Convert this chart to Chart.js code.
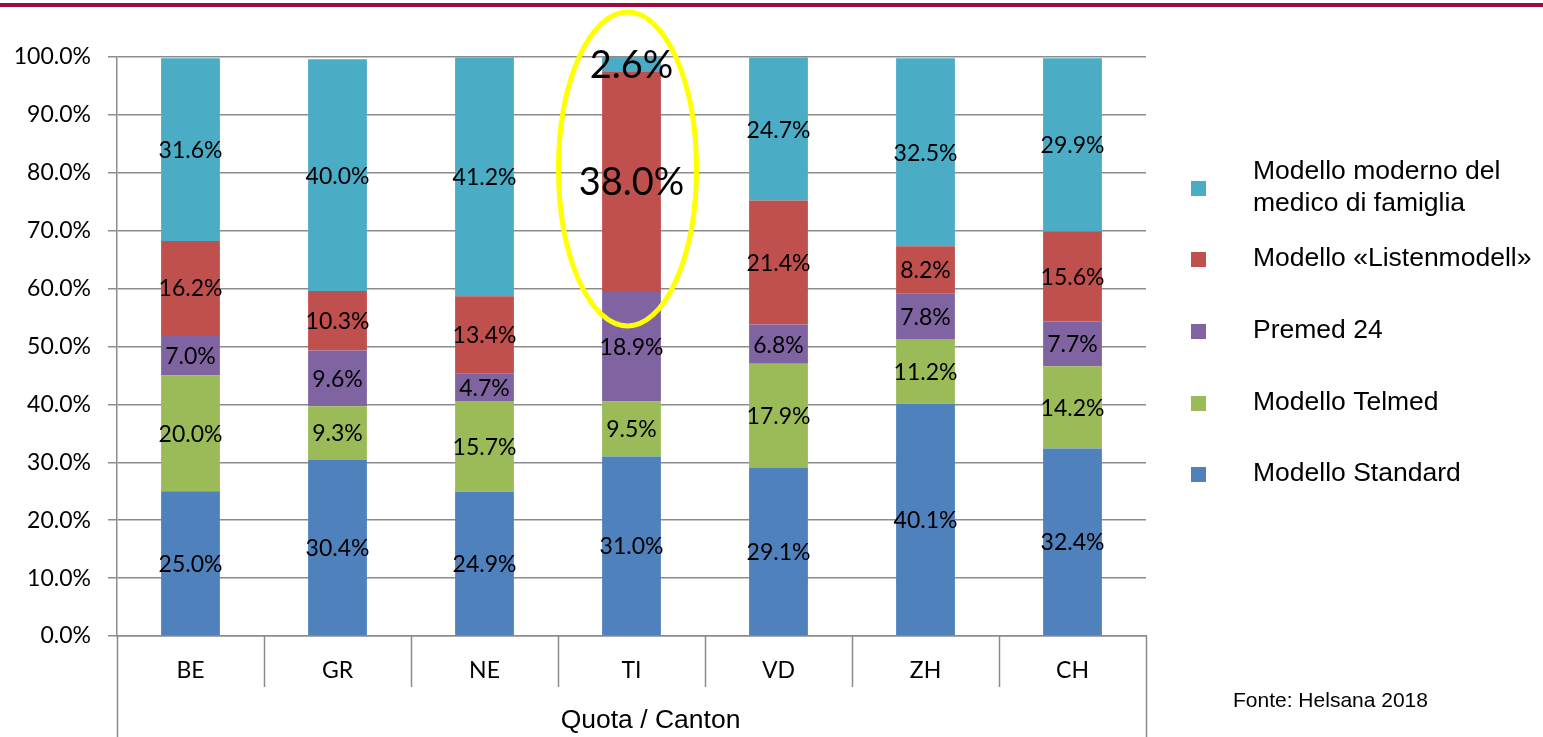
<!DOCTYPE html>
<html>
<head>
<meta charset="utf-8">
<script src="https://cdn.jsdelivr.net/npm/chart.js@4/dist/chart.umd.min.js"></script>
<style>
  html, body { margin: 0; padding: 0; background: #fff; }
  #wrap { width: 1543px; height: 737px; position: relative; }
</style>
</head>
<body>
<div id="wrap"><canvas id="myChart" width="1543" height="737"></canvas></div>
<script>
// data
const cantons = ["BE", "GR", "NE", "TI", "VD", "ZH", "CH"];
const standard = [25.0, 30.4, 24.9, 31.0, 29.1, 40.1, 32.4];
const telmed = [20.0, 9.3, 15.7, 9.5, 17.9, 11.2, 14.2];
const premed = [7.0, 9.6, 4.7, 18.9, 6.8, 7.8, 7.7];
const listen = [16.2, 10.3, 13.4, 38.0, 21.4, 8.2, 15.6];
const moderno = [31.6, 40.0, 41.2, 2.6, 24.7, 32.5, 29.9];
const seriesNames = [
  "Modello Standard",
  "Modello Telmed",
  "Premed 24",
  "Modello «Listenmodell»",
  ["Modello moderno del", "medico di famiglia"],
];
const yTicks = [0, 10, 20, 30, 40, 50, 60, 70, 80, 90, 100];

const colors = ["#4F81BD", "#9BBB59", "#8064A2", "#C0504D", "#4BACC6"];
const labelFont = "Lato, 'Open Sans', sans-serif";
const arial = "'Liberation Sans', Arial, sans-serif";

let data = {
  labels: cantons,
  datasets: [standard, telmed, premed, listen, moderno].map(function (vals, i) {
    return {
      label: seriesNames[i],
      data: vals,
      backgroundColor: colors[i],
      borderWidth: 0,
      barPercentage: 0.4,
      categoryPercentage: 1.0,
    };
  }),
};

// labels inside segments, TI highlighted bigger
const segmentLabels = {
  id: "segmentLabels",
  afterDatasetsDraw(chart) {
    const ctx = chart.ctx;
    ctx.save();
    ctx.fillStyle = "#000";
    ctx.textAlign = "center";
    ctx.textBaseline = "middle";
    chart.data.datasets.forEach(function (ds, i) {
      const meta = chart.getDatasetMeta(i);
      meta.data.forEach(function (bar, j) {
        const big = cantons[j] === "TI" && (i === 3 || i === 4);
        ctx.font = (big ? "38px " : "23px ") + labelFont;
        const mid = (bar.y + bar.base) / 2;
        ctx.fillText(ds.data[j].toFixed(1) + "%", bar.x, mid + 1);
      });
    });
    ctx.restore();
  },
};

// decorations: top rule, category separators, axis title, legend, source, ellipse
const extras = {
  id: "extras",
  afterDraw(chart) {
    const ctx = chart.ctx;
    const area = chart.chartArea;
    const xs = chart.scales.x;
    ctx.save();

    // top rule
    ctx.fillStyle = "#9B0D42";
    ctx.fillRect(0, 3, 1543, 4);

    // category separators
    ctx.strokeStyle = "#8c8c8c";
    ctx.lineWidth = 1.5;
    ctx.beginPath();
    for (let k = 1; k < cantons.length; k++) {
      const x = Math.round((xs.getPixelForValue(k - 1) + xs.getPixelForValue(k)) / 2) + 0.5;
      ctx.moveTo(x, area.bottom);
      ctx.lineTo(x, area.bottom + 51);
    }
    ctx.moveTo(area.left + 0.5, area.bottom);
    ctx.lineTo(area.left + 0.5, 737);
    ctx.moveTo(area.right + 0.5, area.bottom);
    ctx.lineTo(area.right + 0.5, 737);
    ctx.stroke();

    // axis title
    ctx.fillStyle = "#000";
    ctx.textAlign = "center";
    ctx.textBaseline = "middle";
    ctx.font = "26.5px " + arial;
    ctx.fillText("Quota / Canton", (area.left + area.right) / 2 + 19, 721);

    // legend
    const legendY = [474, 403, 331, 259, 188];
    ctx.textAlign = "left";
    chart.data.datasets.forEach(function (ds, i) {
      ctx.fillStyle = ds.backgroundColor;
      ctx.fillRect(1191, legendY[i] - 7, 15, 15);
      ctx.fillStyle = "#000";
      if (Array.isArray(ds.label)) {
        ctx.fillText(ds.label[0], 1253, legendY[i] - 16);
        ctx.fillText(ds.label[1], 1253, legendY[i] + 16);
      } else {
        ctx.fillText(ds.label, 1253, legendY[i]);
      }
    });

    // source
    ctx.font = "21px " + arial;
    ctx.fillText("Fonte: Helsana 2018", 1233, 701);

    // highlight ellipse around TI
    const cx = xs.getPixelForValue(cantons.indexOf("TI")) - 4;
    ctx.strokeStyle = "#FFFF00";
    ctx.lineWidth = 5;
    ctx.beginPath();
    ctx.ellipse(cx, 169, 69, 157, 0, 0, Math.PI * 2);
    ctx.stroke();

    ctx.restore();
  },
};

let config = {
  type: "bar",
  data: data,
  options: {
    responsive: false,
    animation: false,
    layout: { padding: { left: 0, right: 397, top: 57, bottom: 0 } },
    plugins: {
      legend: { display: false },
      tooltip: { enabled: false },
    },
    scales: {
      x: {
        stacked: true,
        grid: { display: false },
        border: { color: "#8c8c8c", width: 1.5 },
        ticks: {
          color: "#000",
          font: { family: labelFont, size: 23 },
          padding: 13,
        },
        afterFit: function (scale) {
          scale.height = 101;
        },
      },
      y: {
        stacked: true,
        min: 0,
        max: 100,
        afterBuildTicks: function (scale) {
          scale.ticks = yTicks.map(function (v) { return { value: v }; });
        },
        grid: {
          color: "#8c8c8c",
          lineWidth: 1.5,
          tickLength: 9,
        },
        border: { color: "#8c8c8c", width: 1.5 },
        ticks: {
          color: "#000",
          font: { family: labelFont, size: 23 },
          padding: 17,
          callback: function (v) { return v.toFixed(1) + "%"; },
        },
        afterFit: function (scale) {
          scale.width = 117;
        },
      },
    },
  },
  plugins: [segmentLabels, extras],
};

var myChart = new Chart(document.getElementById("myChart"), config);
</script>
</body>
</html>
